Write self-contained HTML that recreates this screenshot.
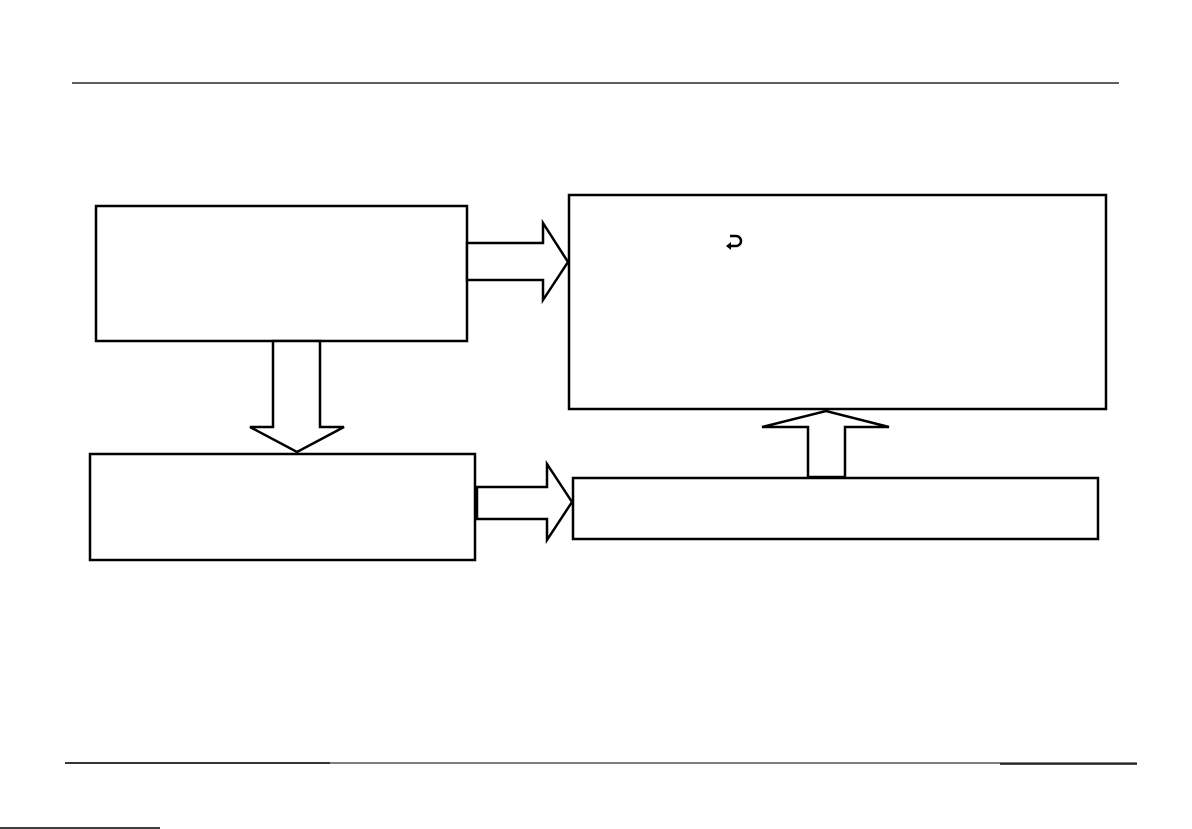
<!DOCTYPE html>
<html><head><meta charset="utf-8"><style>html,body{margin:0;padding:0;background:#fff;}svg{display:block}</style></head>
<body>
<svg width="1192" height="829" viewBox="0 0 1192 829" xmlns="http://www.w3.org/2000/svg">
<g fill="none" stroke="#000" stroke-width="2.5">
<line x1="72" y1="83" x2="1119" y2="83" stroke-width="1.2"/>
<rect x="96" y="206" width="371" height="135"/>
<rect x="90" y="454" width="385" height="106"/>
<rect x="569" y="195" width="537" height="214"/>
<rect x="573" y="478" width="525" height="61"/>
<polygon points="467,243 543,243 543,223 568,262 543,300 543,280 467,280" fill="#fff"/>
<polygon points="273,341 320,341 320,427 344,427 297,452 250,427 273,427" fill="#fff"/>
<polygon points="477,487 547,487 547,464 572,502 547,540 547,519 477,519" fill="#fff"/>
<polygon points="808,477 845,477 845,427 889,427 826,411 762,427 808,427" fill="#fff"/>
<path d="M730,236 h6 a5,5 0 0 1 0,10 h-8" stroke-width="2.5"/>
</g>
<polygon points="726,246 731,242 731,250" fill="#000"/>
<line x1="65" y1="763" x2="1137" y2="763" stroke="#555" stroke-width="1.5"/>
<line x1="65" y1="763" x2="330" y2="763" stroke="#111" stroke-width="1.5"/>
<line x1="1000" y1="764" x2="1137" y2="764" stroke="#111" stroke-width="1.5"/>
<line x1="0" y1="828" x2="160" y2="828" stroke="#000" stroke-width="1.5"/>
</svg>
</body></html>
